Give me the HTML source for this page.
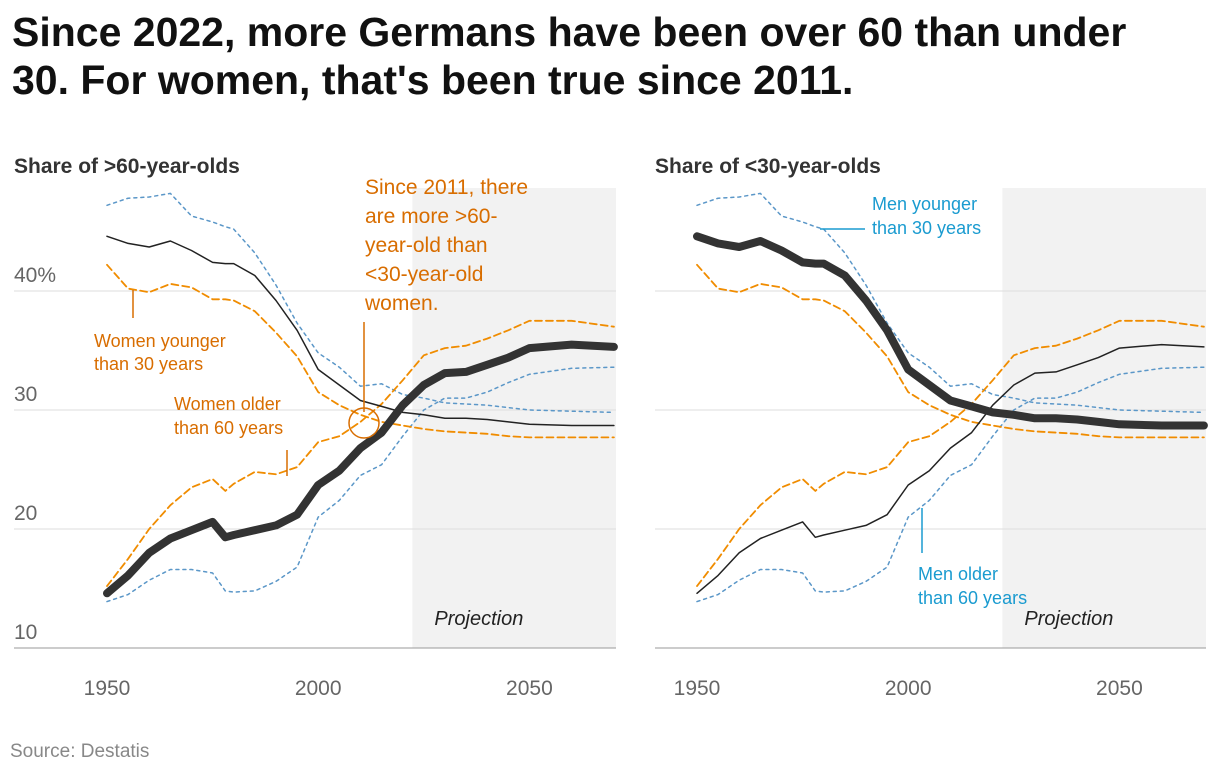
<!DOCTYPE html>
<html><head><meta charset="utf-8">
<style>
body{margin:0;background:#fff;font-family:"Liberation Sans",sans-serif;}
#wrap{position:relative;width:1220px;height:774px;overflow:hidden}
h1{position:absolute;left:12px;top:8px;margin:0;font-size:41px;line-height:48px;font-weight:bold;color:#111;width:1150px}
</style></head>
<body><div id="wrap">
<h1>Since 2022, more Germans have been over 60 than under 30. For women, that's been true since 2011.</h1>
<svg id="svg" width="1220" height="774" style="position:absolute;left:0;top:0"></svg>
</div>
<script>
const years=[1950,1955,1960,1965,1970,1975,1978,1980,1985,1990,1995,2000,2005,2010,2015,2020,2025,2030,2035,2040,2045,2050,2060,2070];
const totalOver60=[14.6,16.1,18.0,19.2,19.9,20.6,19.3,19.5,19.9,20.3,21.2,23.7,24.9,26.8,28.1,30.4,32.1,33.1,33.2,33.8,34.4,35.2,35.5,35.3];
const totalUnder30=[44.6,44.0,43.7,44.2,43.4,42.4,42.3,42.3,41.3,39.2,36.7,33.4,32.1,30.8,30.3,29.8,29.6,29.3,29.3,29.2,29.0,28.8,28.7,28.7];
const womenUnder30=[42.2,40.2,39.9,40.6,40.3,39.3,39.3,39.2,38.3,36.5,34.5,31.5,30.4,29.6,29.0,28.7,28.4,28.2,28.1,28.0,27.8,27.7,27.7,27.7];
const womenOver60=[15.2,17.5,20.0,22.0,23.5,24.2,23.2,23.8,24.8,24.6,25.2,27.3,27.8,29.0,30.5,32.5,34.6,35.2,35.4,36.0,36.7,37.5,37.5,37.0];
const menUnder30=[47.2,47.8,47.9,48.2,46.3,45.8,45.4,45.2,43.2,40.5,37.3,34.8,33.6,32.0,32.2,31.3,31.0,30.6,30.5,30.4,30.2,30.0,29.9,29.8];
const menOver60=[13.9,14.5,15.7,16.6,16.6,16.3,14.8,14.7,14.8,15.6,16.8,21.0,22.4,24.5,25.4,27.8,30.0,31.0,31.0,31.5,32.3,33.0,33.5,33.6];
const yTicks=[10,20,30,40];
const xTicks=[1950,2000,2050];
const NS="http://www.w3.org/2000/svg";
const svg=document.getElementById('svg');
function el(t,a,txt){const e=document.createElementNS(NS,t);for(const k in a)e.setAttribute(k,a[k]);if(txt!=null)e.textContent=txt;svg.appendChild(e);return e;}
const yS=v=>648-(v-10)*11.9;
function panel(x0,xEnd,x1950,thickSeries,thinSeries,name){
  const xS=y=>x1950+(y-1950)*4.224;
  let r=el('rect',{x:xS(2022.3),y:188,width:xEnd-xS(2022.3),height:460,fill:'#f2f2f2'});
  
  let t=el('text',{x:xS(2022.3)+22,y:625,'font-size':20,'font-style':'italic',fill:'#222'},'Projection');
  
  yTicks.forEach(v=>{
    const g=el('line',{x1:x0,x2:xEnd,y1:yS(v),y2:yS(v),stroke:v==10?'#999':'#ddd','stroke-width':1});
    
  });
  xTicks.forEach(v=>{
    const tx=el('text',{x:xS(v),y:695,'text-anchor':'middle','font-size':21,fill:'#666'},String(v));
    
  });
  const path=(arr,st,w,dash,nm)=>{
    const d=arr.map((v,i)=>(i?'L':'M')+xS(years[i]).toFixed(1)+','+yS(v).toFixed(1)).join('');
    const p=el('path',{d:d,fill:'none',stroke:st,'stroke-width':w,'stroke-dasharray':dash||'none','stroke-linejoin':'round','stroke-linecap':'round'});
    
  };
  path(menUnder30,'#5b97c8',1.5,'3,4','men-under30-line');
  path(menOver60,'#5b97c8',1.5,'3,4','men-over60-line');
  path(womenUnder30,'#f08c00',1.8,'7,4','women-under30-line');
  path(womenOver60,'#f08c00',1.8,'7,4','women-over60-line');
  path(thinSeries,'#222',1.5,null,'total-thin-line');
  path(thickSeries,'#333',8,null,'total-thick-line');
  return xS;
}
const xL=panel(14,616,107,totalOver60,totalUnder30,'left');
const xR=panel(655,1206,697,totalUnder30,totalOver60,'right');
yTicks.forEach(v=>{
  const t=el('text',{x:14,y:yS(v)-9,'font-size':21,fill:'#666'},v==40?'40%':String(v));
  
});
function txt(x,y,s,size,fill,nm,weight){const t=el('text',{x:x,y:y,'font-size':size,fill:fill,'font-weight':weight||'normal'},s);return t;}
function ln(x1,y1,x2,y2,c,nm){const l=el('line',{x1,y1,x2,y2,stroke:c,'stroke-width':1.5});}
txt(14,173,'Share of >60-year-olds',21,'#333','left-panel-title','bold');
txt(655,173,'Share of <30-year-olds',21,'#333','right-panel-title','bold');
const O='#d86d00',B='#1a9bd0';
['Since 2011, there','are more >60-','year-old than','<30-year-old','women.'].forEach((s,i)=>txt(365,194+i*29,s,21,O,'annotation-2011'));
ln(364,322,364,412,O,'annotation-2011-leader');
const c=el('circle',{cx:364,cy:423,r:15,fill:'none',stroke:O,'stroke-width':1.5});
txt(94,347,'Women younger',18,O,'women-under30-label');txt(94,370,'than 30 years',18,O,'women-under30-label');
ln(133,290,133,318,O,'women-under30-leader');
txt(174,410,'Women older',18,O,'women-over60-label');txt(174,434,'than 60 years',18,O,'women-over60-label');
ln(287,450,287,476,O,'women-over60-leader');
txt(872,210,'Men younger',18,B,'men-under30-label');txt(872,234,'than 30 years',18,B,'men-under30-label');
ln(820,229,865,229,B,'men-under30-leader');
txt(918,580,'Men older',18,B,'men-over60-label');txt(918,604,'than 60 years',18,B,'men-over60-label');
ln(922,508,922,553,B,'men-over60-leader');
txt(10,757,'Source: Destatis',19,'#888','source-note');
</script>
</body></html>
